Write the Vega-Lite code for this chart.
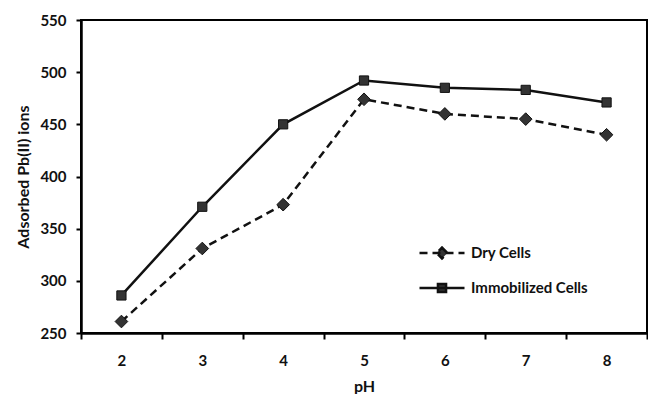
{
  "$schema": "https://vega.github.io/schema/vega-lite/v6.json",
  "width": 566,
  "height": 313,
  "autosize": {"type": "none"},
  "padding": {"left": 81, "top": 20, "right": 1, "bottom": 61},
  "background": "white",
  "config": {
    "font": "Lato",
    "view": {"stroke": "#000", "strokeWidth": 2},
    "axis": {
      "domainColor": "#000", "domainWidth": 2.5, "tickColor": "#000", "tickWidth": 2,
      "labelFont": "Lato", "labelFontSize": 15, "labelFontWeight": "bold", "labelColor": "#111",
      "titleFont": "Lato", "titleFontSize": 16, "titleFontWeight": "bold", "titleColor": "#111",
      "grid": false
    },
    "legend": {
      "padding": 0, "labelFont": "Lato", "labelFontSize": 15, "labelFontWeight": "bold", "labelColor": "#111",
      "symbolSize": 2025, "symbolStrokeWidth": 2.5, "symbolFillColor": "#333", "symbolStrokeColor": "#111",
      "symbolOpacity": 1, "labelOffset": 5
    }
  },
  "data": {
    "values": [
      {"pH": "2", "series": "Dry Cells", "value": 261},
      {"pH": "3", "series": "Dry Cells", "value": 331},
      {"pH": "4", "series": "Dry Cells", "value": 373},
      {"pH": "5", "series": "Dry Cells", "value": 474},
      {"pH": "6", "series": "Dry Cells", "value": 460},
      {"pH": "7", "series": "Dry Cells", "value": 455},
      {"pH": "8", "series": "Dry Cells", "value": 440},
      {"pH": "2", "series": "Immobilized Cells", "value": 286},
      {"pH": "3", "series": "Immobilized Cells", "value": 371},
      {"pH": "4", "series": "Immobilized Cells", "value": 450},
      {"pH": "5", "series": "Immobilized Cells", "value": 492},
      {"pH": "6", "series": "Immobilized Cells", "value": 485},
      {"pH": "7", "series": "Immobilized Cells", "value": 483},
      {"pH": "8", "series": "Immobilized Cells", "value": 471}
    ]
  },
  "encoding": {
    "x": {
      "field": "pH", "type": "ordinal", "title": "pH",
      "scale": {"type": "band", "paddingInner": 0, "paddingOuter": 0},
      "axis": {"labelAngle": 0, "tickBand": "extent", "tickSize": 6, "labelPadding": 14, "titlePadding": 10}
    },
    "y": {
      "field": "value", "type": "quantitative", "title": "Adsorbed Pb(II) ions",
      "scale": {"domain": [250, 550], "nice": false, "zero": false},
      "axis": {"values": [250, 300, 350, 400, 450, 500, 550], "tickSize": 5, "labelPadding": 10, "titlePadding": 8}
    }
  },
  "layer": [
    {
      "transform": [{"filter": "datum.series === 'Dry Cells'"}],
      "mark": {"type": "line", "color": "#111", "strokeWidth": 2.5},
      "encoding": {
        "strokeDash": {
          "field": "series", "type": "nominal",
          "scale": {"domain": ["Dry Cells"], "range": [[8, 5], [8, 5]]},
          "legend": {"title": null, "orient": "none", "legendX": 337, "legendY": 209,
            "symbolType": "M-1,0H1M0,-0.24L0.24,0L0,0.24L-0.24,0Z"}
        }
      }
    },
    {
      "transform": [{"filter": "datum.series === 'Immobilized Cells'"}],
      "mark": {"type": "line", "color": "#111", "strokeWidth": 2.5},
      "encoding": {
        "opacity": {
          "field": "series", "type": "nominal",
          "scale": {"domain": ["Immobilized Cells"], "range": [1, 1]},
          "legend": {"title": null, "orient": "none", "legendX": 337, "legendY": 244,
            "symbolType": "M-1,0H1M-0.18,-0.18H0.18V0.18H-0.18Z"}
        }
      }
    },
    {
      "transform": [{"filter": "datum.series === 'Dry Cells'"}],
      "mark": {"type": "point", "shape": "diamond", "size": 160, "filled": true, "color": "#333", "stroke": "#111", "strokeWidth": 1, "opacity": 1}
    },
    {
      "transform": [{"filter": "datum.series === 'Immobilized Cells'"}],
      "mark": {"type": "point", "shape": "square", "size": 85, "filled": true, "color": "#333", "stroke": "#111", "strokeWidth": 1, "opacity": 1}
    }
  ]
}
